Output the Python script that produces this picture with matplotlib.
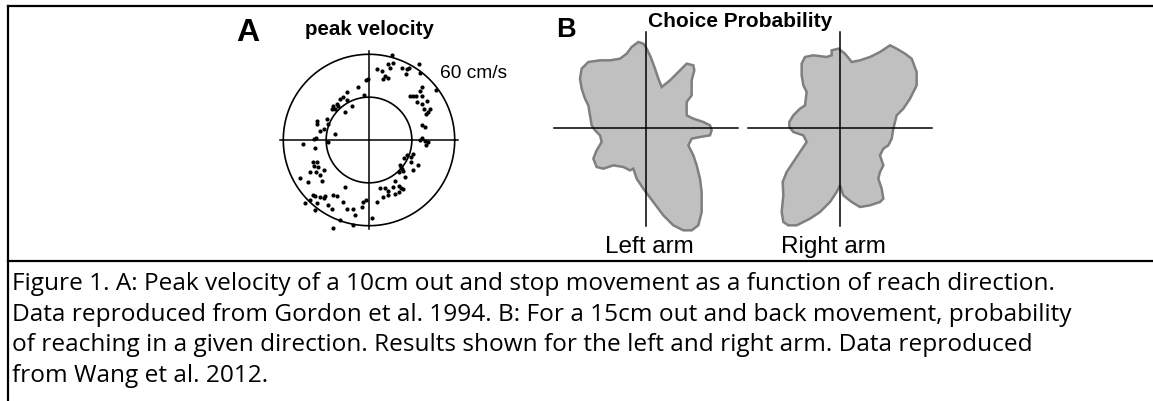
import numpy as np
import matplotlib
matplotlib.use("Agg")
import matplotlib.pyplot as plt
from matplotlib.lines import Line2D

W, H = 1153, 402

# Panel A: peak velocity vectors (cm/s), x = rightward, y = forward
vel_x = [15.8, 17.0, 13.5, 14.7, 22.8, 26.3, 28.1, 35.1, 5.3, 8.8, 11.2, 13.5, 10.0, 25.8, 35.6,
         46.8, 37.4, 35.6, 30.9, 28.6, 32.8, 36.8, 40.7, 33.3, 37.4, 42.6, 40.2, 41.4, 38.4, 36.8,
         39.1, 37.4, 35.6, 39.1, 41.4, 39.8, -2.1, -0.9, -7.4, -3.3,
         -15.6, -17.9, -20.2, -22.6, -15.6, -12.1, -24.9, -26.1, -23.7, -21.4, -16.7, -29.5, -28.4,
         -36.5, -36.1, -31.4, -34.2, -23.7, -38.8, -37.0, -28.4,
         -46.5, -37.7, -39.3, -36.5, -38.8, -35.4, -31.4, -37.0, -41.2, -34.2, -48.1, -43.0, -33.0,
         -16.7, -39.3, -37.7, -34.2, -30.7, -31.4, -24.9, -22.1, -41.2, -44.7, -36.5, -28.4, -17.9,
         -26.1, -15.6, -10.9, -5.1, -9.8, -37.7, -20.2, -10.9, -24.9, -2.3, -4.0, 1.9,
         7.7, 11.2, 13.5, 16.5, 21.2, 22.6, 21.2, 24.0, 18.1, 13.5, 9.5, 5.3, 21.6, 22.3, 23.5,
         21.2, 22.8, 24.4, 26.3, 29.1, 30.9, 29.1, 34.4, 30.9, 25.1, 18.1]
vel_y = [59.5, 54.2, 53.0, 50.7, 50.7, 49.5, 50.7, 53.0, 49.5, 48.4, 44.9, 43.7, 43.0, 46.1, 46.8,
         35.1, 37.4, 34.4, 30.9, 30.5, 30.5, 30.9, 27.4, 26.3, 25.1, 21.6, 18.1, 19.3, 21.6, 10.5,
         9.3, 1.2, 0.2, -0.5, -1.2, -3.3, 41.9, 43.0, 37.2, 31.4,
         33.7, 29.8, 28.6, 25.1, 28.1, 24.0, 24.0, 21.6, 21.6, 23.5, 19.8, 14.7, 11.2,
         13.5, 11.2, 7.7, 6.5, 4.2, 0.7, 1.2, -1.2,
         -2.8, -5.8, -15.6, -15.1, -17.9, -19.1, -20.9, -22.6, -22.1, -24.4, -26.7, -29.1, -28.4,
         -33.0, -38.8, -39.3, -40.0, -39.5, -40.7, -38.4, -39.3, -42.3, -44.0, -44.0, -45.8, -43.5,
         -48.1, -48.6, -48.6, -47.0, -52.8, -49.3, -56.3, -59.8, -61.6, -41.9, -43.5, -54.7,
         -33.7, -33.7, -35.4, -32.6, -31.9, -33.7, -36.5, -34.2, -37.7, -38.8, -40.0, -43.5, -17.2,
         -19.1, -21.4, -22.6, -20.2, -12.8, -10.5, -12.1, -9.8, -15.1, -17.4, -20.7, -26.1, -28.4]
ring_speeds = [30, 60]  # cm/s
ring_label = "60 cm/s"

# Panel B: choice probability outline (direction-weighted, arbitrary units)
left_x = [-0.23, -0.08, 0.02, 0.14, 0.27, 0.37, 0.47, 0.72, 1.02, 1.22, 1.42, 1.45, 1.37, 1.37,
          1.22, 1.22, 1.42, 1.72, 1.92, 1.97, 1.92, 1.62, 1.37, 1.27, 1.42, 1.52, 1.62, 1.67,
          1.67, 1.57, 1.37, 1.12, 0.82, 0.52, 0.22, -0.08, -0.28, -0.38, -0.48, -0.68, -0.98,
          -1.28, -1.48, -1.58, -1.48, -1.33, -1.38, -1.53, -1.63, -1.68, -1.73, -1.83, -1.93,
          -1.98, -1.93, -1.73, -1.38, -1.08, -0.78, -0.58, -0.43]
left_y = [2.58, 2.53, 2.38, 2.13, 1.78, 1.48, 1.23, 1.43, 1.73, 1.93, 1.88, 1.73, 1.43, 0.98,
          0.78, 0.38, 0.28, 0.18, 0.08, -0.07, -0.22, -0.27, -0.32, -0.52, -0.82, -1.12, -1.52,
          -1.92, -2.52, -2.92, -3.07, -3.07, -2.92, -2.62, -2.22, -1.82, -1.52, -1.22, -1.27,
          -1.17, -1.12, -1.22, -1.17, -0.92, -0.67, -0.42, -0.22, -0.07, 0.08, 0.38, 0.68, 0.88,
          1.18, 1.48, 1.78, 1.98, 2.03, 2.03, 2.08, 2.23, 2.43]
right_x = [-0.05, 0.15, 0.35, 0.60, 0.90, 1.20, 1.50, 1.70, 1.95, 2.15, 2.30, 2.30, 2.10, 1.90,
           1.70, 1.60, 1.55, 1.45, 1.30, 1.20, 1.30, 1.20, 1.15, 1.25, 1.30, 1.20, 0.90, 0.60,
           0.35, 0.10, 0.00, -0.10, -0.30, -0.60, -0.90, -1.30, -1.55, -1.70, -1.75, -1.70,
           -1.72, -1.60, -1.40, -1.20, -1.00, -1.10, -1.40, -1.52, -1.52, -1.40, -1.20, -1.05,
           -1.00, -1.10, -1.15, -1.15, -1.05, -0.80, -0.40, -0.25, -0.25]
right_y = [2.38, 2.23, 1.98, 2.03, 2.13, 2.28, 2.48, 2.38, 2.23, 2.08, 1.68, 1.28, 0.88, 0.58,
           0.38, -0.02, -0.32, -0.52, -0.62, -0.82, -1.12, -1.32, -1.52, -1.82, -2.12, -2.22,
           -2.32, -2.37, -2.22, -2.02, -1.72, -1.92, -2.22, -2.52, -2.72, -2.92, -2.92, -2.82,
           -2.52, -2.02, -1.62, -1.32, -1.02, -0.72, -0.42, -0.22, -0.12, 0.03, 0.18, 0.38,
           0.58, 0.68, 1.08, 1.28, 1.58, 1.93, 2.13, 2.18, 2.13, 2.18, 2.33]
arm_labels = ["Left arm", "Right arm"]

caption = ["Figure 1. A: Peak velocity of a 10cm out and stop movement as a function of reach direction.",
           "Data reproduced from Gordon et al. 1994. B: For a 15cm out and back movement, probability",
           "of reaching in a given direction. Results shown for the left and right arm. Data reproduced",
           "from Wang et al. 2012."]

plt.rcParams['font.family'] = ['Liberation Sans', 'DejaVu Sans']

fig = plt.figure(figsize=(W / 100, H / 100), dpi=100)


def box(cx, cy, half):
    # axes rectangle in figure fraction from pixel centre and half size
    return [(cx - half) / W, (H - cy - half) / H, 2 * half / W, 2 * half / H]


def fxy(x, y):
    return x / W, 1 - y / H


# panel A
axA = fig.add_axes(box(369, 141, 100))
axA.set_xlim(-70, 70)
axA.set_ylim(-70, 70)
axA.axis("off")
t = np.linspace(0, 2 * np.pi, 400)
for r in ring_speeds:
    axA.plot(r * np.cos(t), r * np.sin(t), color="black", lw=1.2)
axA.plot([-62, 62], [0, 0], color="black", lw=1.1)
axA.plot([0, 0], [-62.5, 62.5], color="black", lw=1.1)
axA.scatter(vel_x, vel_y, s=9, color="black", linewidths=0, zorder=3)

# panel B
for cx, px_, py_, lab in [(646, left_x, left_y, arm_labels[0]), (840, right_x, right_y, arm_labels[1])]:
    ax = fig.add_axes(box(cx, 129, 110))
    ax.set_xlim(-3.3, 3.3)
    ax.set_ylim(-3.3, 3.3)
    ax.axis("off")
    ax.patch.set_alpha(0)
    ax.fill(px_, py_, facecolor="#c0c0c0", edgecolor="#7f7f7f", lw=1.8, zorder=1)
    ax.plot([-2.75, 2.75], [0, 0], color="black", lw=1.1, zorder=2)
    ax.plot([0, 0], [-2.95, 2.88], color="black", lw=1.1, zorder=2)

# figure texts
fig.text(*fxy(236, 41), "A", fontsize=23, fontweight="bold", va="baseline")
fig.text(*fxy(305, 35), "peak velocity", fontsize=14.8, fontweight="bold", va="baseline")
fig.text(*fxy(440, 78), ring_label, fontsize=13.8, va="baseline")
fig.text(*fxy(556, 37), "B", fontsize=19.5, fontweight="bold", va="baseline")
fig.text(*fxy(648, 27), "Choice Probability", fontsize=15, fontweight="bold", va="baseline")
fig.text(*fxy(649, 253), arm_labels[0], fontsize=17.5, ha="center", va="baseline")
fig.text(*fxy(833, 253), arm_labels[1], fontsize=17.5, ha="center", va="baseline")

for i, line in enumerate(caption):
    fig.text(*fxy(12, 290 + i * 30.7), line, fontsize=17.6, family=["Open Sans", "DejaVu Sans"],
             va="baseline")

# table borders
for (x0, y0), (x1, y1) in [((8, 7), (W, 7)), ((8, 7), (8, H)), ((8, 262), (W, 262))]:
    fig.add_artist(Line2D([x0 / W, x1 / W], [1 - y0 / H, 1 - y1 / H], color="black", lw=1.6))

fig.savefig("out.png", dpi=100)
